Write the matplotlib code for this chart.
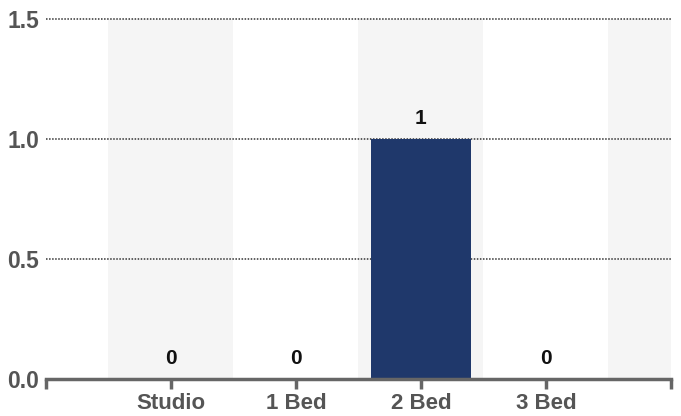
import matplotlib.pyplot as plt

plt.rcParams['font.family'] = ['Liberation Sans', 'DejaVu Sans']

categories = ['Studio', '1 Bed', '2 Bed', '3 Bed']
counts = [0, 0, 1, 0]
yticks = [0.0, 0.5, 1.0, 1.5]

fig = plt.figure(figsize=(6.81, 4.16), dpi=100)
ax = fig.add_axes([0.0675, 0.089, 0.9175, 0.865])

x = list(range(len(categories)))

# alternating background bands
for i in range(-1, len(categories) + 1):
    if i % 2 == 0:
        ax.axvspan(i - 0.5, i + 0.5, color='#f5f5f5', zorder=0, lw=0)

ax.bar(x, counts, width=0.8, color='#1f386b', zorder=2)

for xi, c in zip(x, counts):
    ax.annotate(str(c), (xi, c), xytext=(0, 8), textcoords='offset points',
                ha='center', va='bottom', fontsize=15, fontweight='bold',
                color='#111111')

ax.set_xlim(-1, 4)
ax.set_ylim(0, 1.5)
ax.set_yticks(yticks)
ax.set_yticklabels([f'{v:.1f}' for v in yticks])
ax.set_xticks(x)
ax.set_xticklabels(categories)

for v in yticks[1:]:
    ax.axhline(v, color='#333333', lw=1.1, ls=(0, (1, 1)), zorder=1, clip_on=False)

for s in ['top', 'right', 'left']:
    ax.spines[s].set_visible(False)
ax.spines['bottom'].set_color('#666666')
ax.spines['bottom'].set_linewidth(2.5)
ax.spines['bottom'].set_zorder(3)

ax.tick_params(axis='x', length=7, width=2.5, color='#666666', pad=3,
               labelsize=16, labelcolor='#555555')
ax.tick_params(axis='y', length=0, pad=5, labelsize=16.5, labelcolor='#555555')
for lbl in ax.get_xticklabels() + ax.get_yticklabels():
    lbl.set_fontweight('bold')

# end caps on the axis
for xe in [-1, 4]:
    ax.plot([xe], [0], marker=[(0, 0), (0, -1)], markersize=14, color='#666666',
            mew=2.5, clip_on=False, zorder=4)

fig.savefig('out.png', dpi=100)
